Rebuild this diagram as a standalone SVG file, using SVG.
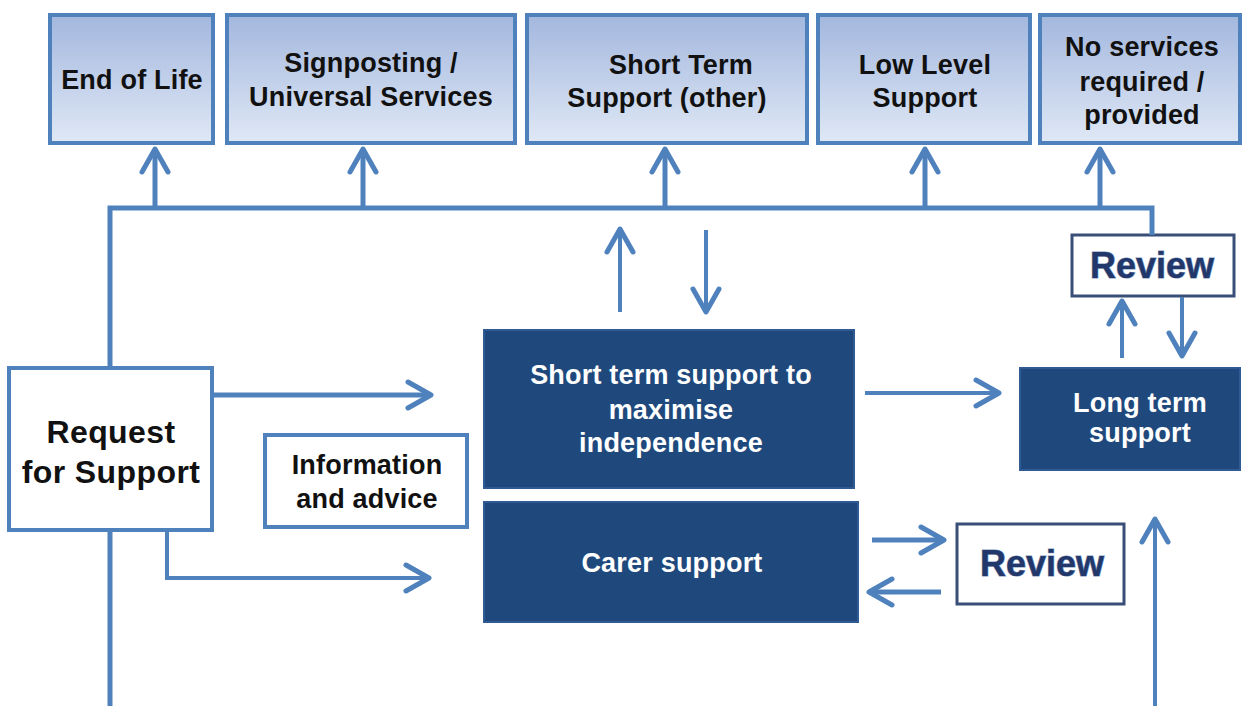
<svg xmlns="http://www.w3.org/2000/svg" width="1244" height="706" viewBox="0 0 1244 706">
  <defs>
    <linearGradient id="outcomeFill" x1="0" y1="0" x2="0" y2="1">
      <stop offset="0" stop-color="#a3b7de"/>
      <stop offset="1" stop-color="#dfe8f5"/>
    </linearGradient>
    <marker id="chev" markerUnits="userSpaceOnUse" viewBox="-28 -17 32 34" markerWidth="32" markerHeight="34" refX="0" refY="0" orient="auto">
      <path d="M-23,-13 L0,0 L-23,13" fill="none" stroke="#4f81bd" stroke-width="5" stroke-linecap="round" stroke-linejoin="round"/>
    </marker>
    <style>
      .outcome { fill: url(#outcomeFill); stroke: #4f81bd; stroke-width: 4; }
      .plain { fill: #ffffff; stroke: #4f81bd; stroke-width: 4; }
      .dark { fill: #1f497d; stroke: #2f5a94; stroke-width: 2; }
      .review { fill: #ffffff; stroke: #3a4f78; stroke-width: 3; }
      .lbl { font-family: "Liberation Sans", Arial, sans-serif; font-weight: bold; font-size: 27px; letter-spacing: 0.2px; fill: #111111; text-anchor: middle; }
      .big { font-size: 32px; letter-spacing: 0.4px; }
      .inv { fill: #ffffff; }
      .rev { font-family: "Liberation Sans", Arial, sans-serif; font-weight: bold; font-size: 36px; fill: #22386a; stroke: #7f95bd; stroke-width: 1.2; paint-order: stroke; text-anchor: middle; }
      .wire { fill: none; stroke: #4f81bd; stroke-width: 5; stroke-linejoin: miter; }
      .thin { stroke-width: 4; }
      .arr { marker-end: url(#chev); }
    </style>
  </defs>

  <!-- outcome boxes along the top -->
  <g id="end-of-life">
    <rect class="outcome" x="50" y="15" width="163" height="128"/>
    <text class="lbl" x="132" y="89">End of Life</text>
  </g>
  <g id="signposting">
    <rect class="outcome" x="227" y="15" width="288" height="128"/>
    <text class="lbl" x="371" y="72">Signposting /</text>
    <text class="lbl" x="371" y="106">Universal Services</text>
  </g>
  <g id="short-term-other">
    <rect class="outcome" x="527" y="15" width="280" height="128"/>
    <text class="lbl" x="681" y="74">Short Term</text>
    <text class="lbl" x="667" y="107">Support (other)</text>
  </g>
  <g id="low-level">
    <rect class="outcome" x="818" y="15" width="212" height="128"/>
    <text class="lbl" x="925" y="74">Low Level</text>
    <text class="lbl" x="925" y="107">Support</text>
  </g>
  <g id="no-services">
    <rect class="outcome" x="1040" y="15" width="200" height="128"/>
    <text class="lbl" x="1142" y="56">No services</text>
    <text class="lbl" x="1142" y="91">required /</text>
    <text class="lbl" x="1142" y="124">provided</text>
  </g>

  <!-- entry point and advice -->
  <g id="request">
    <rect class="plain" x="9" y="368" width="203" height="162"/>
    <text class="lbl big" x="111" y="443">Request</text>
    <text class="lbl big" x="111" y="483">for Support</text>
  </g>
  <g id="information">
    <rect class="plain" x="265" y="435" width="202" height="92"/>
    <text class="lbl" x="367" y="474">Information</text>
    <text class="lbl" x="367" y="508">and advice</text>
  </g>

  <!-- support services -->
  <g id="short-term-support">
    <rect class="dark" x="484" y="330" width="370" height="158"/>
    <text class="lbl inv" x="671" y="384">Short term support to</text>
    <text class="lbl inv" x="671" y="419">maximise</text>
    <text class="lbl inv" x="671" y="452">independence</text>
  </g>
  <g id="carer-support">
    <rect class="dark" x="484" y="502" width="374" height="120"/>
    <text class="lbl inv" x="672" y="572">Carer support</text>
  </g>
  <g id="long-term-support">
    <rect class="dark" x="1020" y="368" width="220" height="102"/>
    <text class="lbl inv" x="1140" y="412">Long term</text>
    <text class="lbl inv" x="1140" y="442">support</text>
  </g>

  <!-- review points -->
  <g id="review-long-term">
    <rect class="review" x="1072" y="235" width="162" height="61"/>
    <text class="rev" x="1152" y="278">Review</text>
  </g>
  <g id="review-carer">
    <rect class="review" x="957" y="524" width="167" height="80"/>
    <text class="rev" x="1042" y="576">Review</text>
  </g>

  <!-- connectors -->
  <g id="connectors">
    <polyline class="wire" points="110,368 110,208 1152,208 1152,235"/>
    <line class="wire arr" x1="155" y1="208" x2="155" y2="149"/>
    <line class="wire arr" x1="363" y1="208" x2="363" y2="149"/>
    <line class="wire arr" x1="665" y1="208" x2="665" y2="149"/>
    <line class="wire arr" x1="925" y1="208" x2="925" y2="149"/>
    <line class="wire arr" x1="1100" y1="208" x2="1100" y2="149"/>

    <line class="wire" x1="110" y1="530" x2="110" y2="706"/>
    <line class="wire arr" x1="212" y1="395" x2="431" y2="395"/>
    <polyline class="wire thin arr" points="167,530 167,578 429,578"/>

    <line class="wire thin arr" x1="620" y1="312" x2="620" y2="229"/>
    <line class="wire thin arr" x1="706" y1="230" x2="706" y2="312"/>
    <line class="wire thin arr" x1="865" y1="393" x2="999" y2="393"/>

    <line class="wire thin arr" x1="1122" y1="358" x2="1122" y2="301"/>
    <line class="wire thin arr" x1="1182" y1="297" x2="1182" y2="356"/>

    <line class="wire arr" x1="872" y1="540" x2="944" y2="540"/>
    <line class="wire arr" x1="941" y1="592" x2="869" y2="592"/>

    <line class="wire thin arr" x1="1155" y1="706" x2="1155" y2="519"/>
  </g>
</svg>
